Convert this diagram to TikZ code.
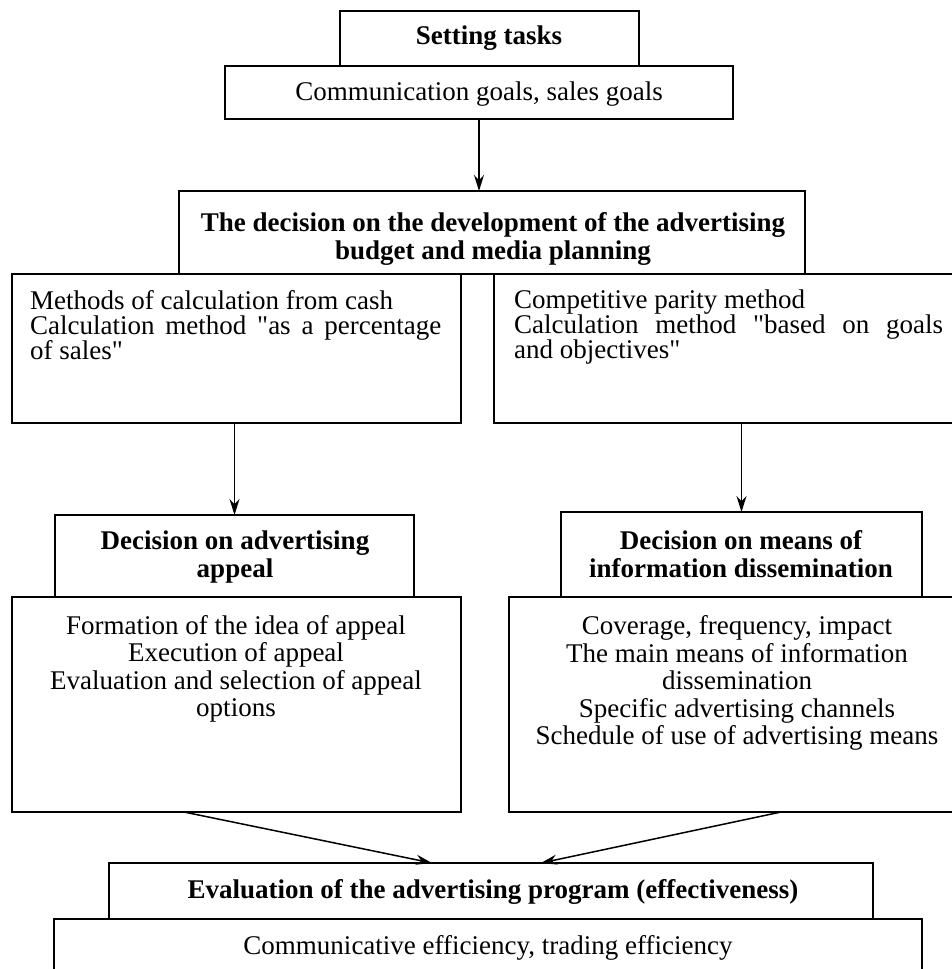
\documentclass[tikz,border=0pt]{standalone}
\usepackage{fontspec}
\setmainfont{Liberation Serif}
\newfontfamily\qfont{Liberation Serif}
\usetikzlibrary{arrows.meta,calc}
\setlength{\parindent}{0pt}
\newcommand{\sq}{{\qfont"}}
\begin{document}
\begin{tikzpicture}[x=1pt,y=-1pt,
  box/.style={draw, line width=1.7pt, inner sep=0pt, outer sep=0pt, anchor=north west},
  txt/.style={inner sep=0pt, font=\fontsize{27}{27.5}\selectfont, align=center},
  btxt/.style={inner sep=0pt, font=\fontsize{27}{27.5}\selectfont\bfseries, align=center},
  jtxt/.style={inner sep=0pt, anchor=north west, font=\fontsize{27}{25}\selectfont, align=justify},
  arr/.style={-{Stealth[length=16pt,width=10pt]}, line width=1.5pt}]
\useasboundingbox (0,0) rectangle (951,969);
% boxes
\node[box, minimum width=299, minimum height=55] (set) at (340,11) {};
\node[box, minimum width=508, minimum height=53] (comm) at (225,66) {};
\node[box, minimum width=626, minimum height=83] (dec) at (179,191) {};
\node[box, minimum width=449, minimum height=149] (lm) at (12,274) {};
\node[box, minimum width=480, minimum height=149] (rm) at (494,274) {};
\node[box, minimum width=359, minimum height=82] (app) at (55,515) {};
\node[box, minimum width=361, minimum height=85] (mea) at (561,512) {};
\node[box, minimum width=449, minimum height=215] (ll) at (12,597) {};
\node[box, minimum width=470, minimum height=215] (lr) at (509,597) {};
\node[box, minimum width=764, minimum height=56] (ev) at (109,863) {};
\node[box, minimum width=868, minimum height=90] (bot) at (54,919) {};
% texts
\node[btxt] (tset) at (489,38) {Setting tasks};
\node[txt] (tcomm) at (479,94) {Communication goals, sales goals};
\node[btxt] (tdec) at (493,239) {The decision on the development of the advertising\\budget and media planning};
\node[jtxt, text width=411] (tlm) at (30,290) {Methods of calculation from cash\par Calculation method \sq as a percentage\linebreak of sales\sq};
\node[jtxt, text width=429] (trm) at (514,290) {Competitive parity method\par Calculation method \sq based on goals\linebreak and objectives\sq};
\node[btxt] (tapp) at (235,557) {Decision on advertising\\appeal};
\node[btxt] (tmea) at (741,554) {Decision on means of\\information dissemination};
\node[txt] (tll) at (236,669) {Formation of the idea of appeal\\Execution of appeal\\Evaluation and selection of appeal\\options};
\node[txt] (tlr) at (737,683) {Coverage, frequency, impact\\The main means of information\\dissemination\\Specific advertising channels\\Schedule of use of advertising means};
\node[btxt] (tev) at (493,892) {Evaluation of the advertising program (effectiveness)};
\node[txt] (tbot) at (488,948) {Communicative efficiency, trading efficiency};
% connectors
\draw[arr] (comm.south) -- (dec.north -| comm.south);
\draw[arr] (lm.south -| app.north) -- (app.north);
\draw[arr] (mea.north |- rm.south) -- (mea.north);
\draw[arr] ($(ll.south west)+(172,0)$) -- ($(ev.north west)+(323,0)$);
\draw[arr] ($(lr.south west)+(272,0)$) -- ($(ev.north west)+(432,0)$);
\end{tikzpicture}
\end{document}
